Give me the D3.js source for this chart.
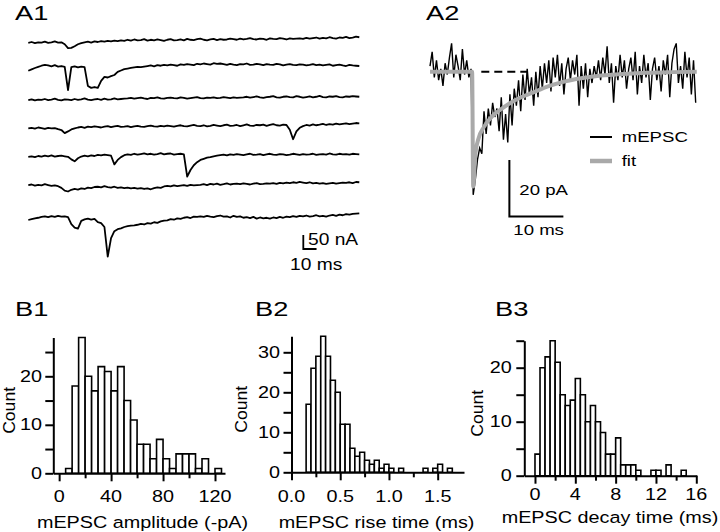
<!DOCTYPE html>
<html><head><meta charset="utf-8">
<script src="https://cdn.jsdelivr.net/npm/d3@7"></script>
<style>
body{margin:0;background:#fff}
svg{display:block}
text{font-family:"Liberation Sans",Arial,Helvetica,sans-serif;fill:#000}
</style>
</head><body>
<svg id="c" width="720" height="532"></svg>
<script>
// ---------- DATA ----------
// A1: seven sweeps, sampled every 2.5 ms (current in nA)
const a1Dt = 2.5;
const a1Trace1 = [-3,0,-4,-1,-2,1,-3,-1,2,-2,-1,-8,-22,-21,-15,-8,-4,-1,1,-2,2,0,3,1,4,2,5,3,6,4,8,5,9,6,7,10,5,8,6,9,7,4,8,10,6,7,9,6,11,8,7,10,12,8,6,9,11,7,10,8,9,12,10,8,12,9,11,14,10,9,12,11,8,13,11,10,14,12,9,13,11,12,13,11,15,12,14,16,12,15,13,17,14,12,16,15,18,14,16,19,17];
const a1Trace2 = [-1,4,9,13,17,20,18,15,19,14,16,13,-70,12,15,11,14,12,-55,-62,-59,-62,-37,-23,-25,-20,-16,-5,0,5,7,9,11,13,12,14,16,18,15,19,17,20,18,21,19,17,22,20,23,21,19,24,22,25,23,21,26,24,25,23,20,24,21,19,23,22,25,20,21,24,22,19,23,21,20,24,22,18,21,23,20,19,22,21,18,20,23,19,21,18,20,22,17,19,21,18,16,20,18,17,16];
const a1Trace3 = [-4,-1,-5,-2,-3,0,-4,-2,1,-3,-5,-1,-2,-4,0,-3,-1,2,-2,-4,-1,0,-3,1,-2,-1,2,-1,0,1,2,4,1,3,5,2,0,4,3,6,2,1,4,5,3,2,6,4,1,3,5,7,3,2,5,4,6,3,4,7,5,3,6,4,5,6,8,5,7,9,6,4,7,8,10,6,5,8,9,7,6,10,8,5,7,9,6,8,11,7,6,9,8,10,7,6,9,8,10,9,8];
const a1Trace4 = [-3,-1,-4,0,-2,-5,-1,-3,-2,-6,-9,-20,-14,-7,-3,0,2,-1,3,1,4,2,0,3,5,1,4,6,2,3,5,1,4,6,3,2,5,7,4,3,6,4,7,5,3,6,8,5,4,7,9,6,5,8,4,6,9,7,5,8,10,6,7,9,5,8,11,7,6,9,8,10,6,9,12,8,7,10,9,-8,-42,-14,-1,5,9,7,11,8,10,13,9,12,10,14,11,13,15,12,14,16,15];
const a1Trace5 = [-3,-1,-4,0,-2,1,-1,2,-2,0,1,-1,-3,-12,-19,-8,-2,1,-1,2,0,4,2,5,3,1,-30,-14,-4,3,6,4,8,5,7,9,6,8,5,7,10,6,8,9,5,7,8,6,-74,-50,-33,-22,-14,-10,-6,-4,-1,1,3,5,2,6,4,7,5,3,6,8,4,5,7,3,6,8,5,4,7,6,3,5,8,6,4,7,5,6,8,4,6,7,5,9,6,5,8,6,7,5,8,7,6];
const a1Trace6 = [-2,0,-4,-1,-3,1,-2,-5,-3,-6,-12,-22,-25,-19,-16,-18,-14,-16,-11,-13,-9,-8,-10,-6,-9,-11,-8,-12,-10,-13,-11,-14,-12,-15,-13,-16,-14,-17,-13,-10,-12,-7,-5,-7,-3,-6,-4,-2,-5,-1,-3,-2,-1,1,-2,2,0,3,-1,1,4,0,2,3,1,4,2,0,3,5,1,2,4,3,5,2,6,4,7,5,8,6,9,7,5,8,4,6,3,5,2,4,6,3,5,7,6,8,5,9,8];
const a1Trace7 = [-25,-22,-19,-17,-14,-12,-15,-11,-14,-10,-13,-12,-15,-40,-52,-56,-28,-23,-20,-24,-21,-33,-36,-50,-156,-90,-65,-58,-55,-50,-47,-45,-44,-42,-39,-41,-36,-38,-33,-35,-30,-27,-26,-22,-24,-19,-21,-17,-15,-18,-13,-14,-12,-14,-10,-13,-15,-11,-9,-13,-12,-16,-10,-14,-12,-17,-15,-18,-14,-20,-16,-19,-17,-20,-16,-18,-14,-17,-13,-15,-11,-14,-10,-12,-9,-13,-11,-8,-12,-10,-13,-9,-7,-10,-6,-8,-4,-6,-3,-2,-1];
const a1Traces = [a1Trace1,a1Trace2,a1Trace3,a1Trace4,a1Trace5,a1Trace6,a1Trace7];

// A2: averaged mEPSC, sampled every 0.4 ms (pA), and fit
const a2Dt = 0.4;
const a2Trace = [2,7,-2,4,-3,1,-5,3,-1,5,10,-2,6,2,-3,8,-1,4,-2,1,
 -43.5,-38,-31,-27,-29,-14,-22,-13,-19,-11,-16,-13,-21,-9,-24,-15,-25,-8,-19,-6,
 -12,-3,-14,-1,-10,1,-8,-2,-12,0,-9,2,-6,3,-4,4,-7,5,-2,6,
 -5,3,-8,1,5,-3,4,-1,6,-12,2,-6,3,-9,1,-4,2,-2,4,-3,
 5,-1,9,-4,3,-11,2,-3,6,-2,4,-6,1,5,-3,7,-8,2,-4,6,
 -2,3,-10,1,5,-3,2,-7,4,-1,6,-9,3,8,10,-4,2,-6,7,-2,5,-8,4,-11];
const fitTime = [0,7.8,8.0,8.4,9.0,10,11.5,13.5,16,19,22,25,28,31,35,40,45,49.4];
const fitValue = [0,0,-40.6,-29,-23.5,-19.5,-15.8,-12.8,-9.8,-7.4,-5.1,-3.4,-2.3,-1.5,-0.9,-0.4,-0.15,0];
const baselineDash = [9.5, 18];

// B1: amplitude histogram (bins of 5 pA from 0)
const ampBinStart = 0, ampBinWidth = 5;
const ampCounts = [0,1,18,28,20,17,22,21,17,22,15,11,6,6,3,7,3,1,4,4,4,1,3,0,1];
const ampTicks = [0,40,80,120], ampMinor = [20,60,100];
// B2: rise time histogram (bins of 0.05 ms from 0.05)
const riseBinStart = 0.05, riseBinWidth = 0.05;
const riseCounts = [0,0,17,26,29,34,29,23,20,12,12,6,4,5,3,2,3,1,2,1,0,1,0,0,0,0,1,0,1,2,0,1,0];
const riseTicks = [0,0.5,1,1.5], riseMinor = [0.25,0.75,1.25];
// B3: decay time histogram (bins of 0.5 ms from 0)
const decayBinStart = 0, decayBinWidth = 0.5;
const decayCounts = [4,20,22,25,21,15,13,14,18,15,10,13,10,8,4,4,7,2,2,2,1,0,0,1,1,0,2,0,0,1];
const decayTicks = [0,4,8,12,16], decayMinor = [2,6,10,14];

// ---------- DRAW ----------
const svg = d3.select('#c');
const SX = 1.2;
function txt(x, y, s, o = {}) {
  const size = o.size || 16.5, anchor = o.anchor || 'start', sx = o.sx || SX;
  const tr = o.rot ? `translate(${x},${y}) rotate(-90) scale(${sx},1)` : `translate(${x},${y}) scale(${sx},1)`;
  return svg.append('text').attr('transform', tr).attr('text-anchor', anchor)
    .style('font-size', size + 'px').text(s);
}

// Panel labels
txt(15, 20, 'A1', {size: 21, sx: 1.3});
txt(426, 20, 'A2', {size: 21, sx: 1.3});
txt(15, 316, 'B1', {size: 21, sx: 1.3});
txt(255, 316, 'B2', {size: 21, sx: 1.3});
txt(495, 316, 'B3', {size: 21, sx: 1.3});

// ----- A1 -----
const a1X = d3.scaleLinear().domain([0, 250]).range([28.3, 359.3]);
const a1Row = d3.scaleLinear().domain([0, 6]).range([42, 213]);
const a1Y = d3.scaleLinear().domain([0, 50]).range([0, -14]);
a1Traces.forEach((tr, k) => {
  const line = d3.line().x((d, i) => a1X(i * a1Dt)).y(d => a1Row(k) + a1Y(d));
  svg.append('path').attr('d', line(tr)).attr('fill', 'none').attr('stroke', '#000')
    .attr('stroke-width', 1.8).attr('stroke-linejoin', 'round');
});
// scale bar
{
  const bx = 303.3, by = 249;
  const vLen = a1Y(0) - a1Y(50), hLen = a1X(10) - a1X(0);
  svg.append('path').attr('d', `M${bx},${by - vLen}V${by}H${bx + hLen}`)
    .attr('fill', 'none').attr('stroke', '#000').attr('stroke-width', 1.8);
  txt(308, 245, '50 nA', {size: 16});
  txt(290, 270, '10 ms', {size: 16});
}

// ----- A2 -----
const a2X = d3.scaleLinear().domain([0, 50]).range([430, 700]);
const a2Y = d3.scaleLinear().domain([0, -20]).range([71.7, 128.3]);
svg.append('path')
  .attr('d', d3.line()([[a2X(baselineDash[0]), a2Y(0)], [a2X(baselineDash[1]), a2Y(0)]]))
  .attr('stroke', '#000').attr('stroke-width', 2).attr('stroke-dasharray', '8,5');
svg.append('path')
  .attr('d', d3.line().x((d, i) => a2X(i * a2Dt)).y(d => a2Y(d))(a2Trace))
  .attr('fill', 'none').attr('stroke', '#000').attr('stroke-width', 1.4).attr('stroke-linejoin', 'miter');
svg.append('path')
  .attr('d', d3.line().x((d, i) => a2X(fitTime[i])).y(d => a2Y(d)).curve(d3.curveMonotoneX)(fitValue))
  .attr('fill', 'none').attr('stroke', '#a9a9a9').attr('stroke-width', 4).attr('stroke-linejoin', 'round');
// legend
svg.append('line').attr('x1', 590).attr('x2', 612).attr('y1', 137).attr('y2', 137).attr('stroke', '#000').attr('stroke-width', 2);
svg.append('line').attr('x1', 590).attr('x2', 612).attr('y1', 161).attr('y2', 161).attr('stroke', '#a9a9a9').attr('stroke-width', 4.5);
txt(621.7, 141.7, 'mEPSC', {size: 15.5});
txt(621.7, 166, 'fit', {size: 15.5});
// scale bars
{
  const t0 = 14.7, v0 = -51.2;
  svg.append('path')
    .attr('d', `M${a2X(t0)},${a2Y(v0 + 20)}V${a2Y(v0)}H${a2X(t0 + 10)}`)
    .attr('fill', 'none').attr('stroke', '#000').attr('stroke-width', 2);
  txt(519.3, 195, '20 pA', {size: 15.5});
  txt(513.3, 235, '10 ms', {size: 15.5});
}

// ----- Histograms -----
function hist(o) {
  const xs = d3.scaleLinear().domain(o.xDomain).range(o.xRange);
  const ys = d3.scaleLinear().domain(o.yDomain).range(o.yRange);
  const g = svg.append('g');
  o.counts.forEach((c, i) => {
    const a = xs(o.binStart + i * o.binWidth), b = xs(o.binStart + (i + 1) * o.binWidth);
    if (c > 0) {
      g.append('path').attr('d', `M${a},${ys(0)}V${ys(c)}H${b}V${ys(0)}Z`)
        .attr('fill', '#fff').attr('stroke', '#000').attr('stroke-width', 1.6);
    }
  });
  const style = sel => sel.selectAll('path,line').attr('stroke', '#000').attr('stroke-width', 2);
  svg.append('g').attr('transform', `translate(0,${ys(0)})`)
    .call(d3.axisBottom(xs).tickValues(o.minor).tickSize(5).tickSizeOuter(0).tickFormat(''))
    .call(style).call(s => s.select('.domain').remove());
  svg.append('g').attr('transform', `translate(0,${ys(0)})`)
    .call(d3.axisBottom(xs).tickValues(o.ticks).tickSize(8).tickSizeOuter(0).tickFormat(''))
    .call(style);
  svg.append('g').attr('transform', `translate(${o.xRange[0]},0)`)
    .call(d3.axisLeft(ys).tickValues(o.yTicks).tickSize(8).tickSizeOuter(0).tickFormat(''))
    .call(style);
  o.ticks.forEach(v => txt(xs(v), o.labelY, o.fmt(v), {anchor: 'middle'}));
  o.yLabels.forEach(v => txt(o.yLabelRight, ys(v) + 5.5, String(v), {anchor: 'end'}));
  txt(o.titleX, o.titleY, o.title, {anchor: 'middle'});
  txt(o.countX, (o.yRange[0] + o.yRange[1]) / 2 + 5, 'Count', {anchor: 'middle', rot: true, sx: 1.1, size: 16});
}

hist({xDomain: [-4.5, 127.7], xRange: [53.3, 225], yDomain: [0, 28], yRange: [473.3, 337.5],
  binStart: ampBinStart, binWidth: ampBinWidth, counts: ampCounts,
  ticks: ampTicks, minor: ampMinor, fmt: d3.format('d'),
  yTicks: [0,5,10,15,20,25], yLabels: [0,10,20], labelY: 502, yLabelRight: 42,
  title: 'mEPSC amplitude (-pA)', titleX: 142.5, titleY: 528, countX: 14.5});

hist({xDomain: [0, 1.77], xRange: [291.5, 464], yDomain: [0, 34], yRange: [472.3, 336.3],
  binStart: riseBinStart, binWidth: riseBinWidth, counts: riseCounts,
  ticks: riseTicks, minor: riseMinor, fmt: d3.format('.1f'),
  yTicks: [0,5,10,15,20,25,30], yLabels: [0,10,20,30], labelY: 501.7, yLabelRight: 280,
  title: 'mEPSC rise time (ms)', titleX: 376.5, titleY: 528, countX: 246.7});

hist({xDomain: [-1.06, 16.04], xRange: [524.3, 696.7], yDomain: [0, 25], yRange: [475.7, 340.7],
  binStart: decayBinStart, binWidth: decayBinWidth, counts: decayCounts,
  ticks: decayTicks, minor: decayMinor, fmt: d3.format('d'),
  yTicks: [0,5,10,15,20,25], yLabels: [0,10,20], labelY: 500, yLabelRight: 511.7,
  title: 'mEPSC decay time (ms)', titleX: 610, titleY: 523.3, countX: 483});
</script>
</body></html>
